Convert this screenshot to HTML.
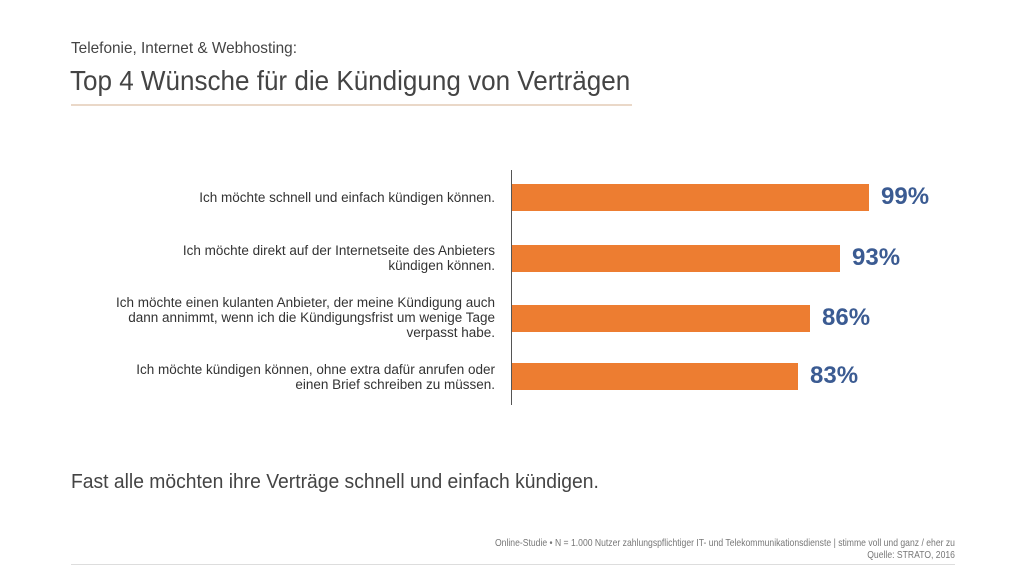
<!DOCTYPE html>
<html><head><meta charset="utf-8"><style>
body{margin:0;width:1024px;height:576px;background:#fff;position:relative;overflow:hidden;font-family:"Liberation Sans Narrow","Liberation Sans",sans-serif;color:#444;}
.a{position:absolute;white-space:nowrap;}
.lbl{position:absolute;right:529px;text-align:right;font-size:13.5px;line-height:15px;color:#333;}
.bar{position:absolute;left:512px;height:27px;background:#ed7d31;}
.pct{position:absolute;font-family:"Liberation Sans",sans-serif;font-weight:bold;font-size:24px;color:#3b5b92;}
</style></head><body>
<div class="a" style="left:71px;top:40px;font-size:16px;color:#444;transform:scaleX(0.96);transform-origin:left">Telefonie, Internet &amp; Webhosting:</div>
<div class="a" style="left:70px;top:65px;font-size:28px;color:#444;transform:scaleX(0.93);transform-origin:left">Top 4 Wünsche für die Kündigung von Verträgen</div>
<div class="a" style="left:71px;top:104px;width:561px;height:2px;background:#ead8c8"></div>
<div class="a" style="left:511px;top:170px;width:1px;height:235px;background:#555"></div>

<div class="lbl" style="top:190px">Ich möchte schnell und einfach kündigen können.</div>
<div class="bar" style="top:184px;width:357px"></div>
<div class="pct" style="left:881px;top:183px">99%</div>

<div class="lbl" style="top:243px">Ich möchte direkt auf der Internetseite des Anbieters<br>kündigen können.</div>
<div class="bar" style="top:245px;width:328px"></div>
<div class="pct" style="left:852px;top:244px">93%</div>

<div class="lbl" style="top:295px">Ich möchte einen kulanten Anbieter, der meine Kündigung auch<br>dann annimmt, wenn ich die Kündigungsfrist um wenige Tage<br>verpasst habe.</div>
<div class="bar" style="top:305px;width:298px"></div>
<div class="pct" style="left:822px;top:304px">86%</div>

<div class="lbl" style="top:362px">Ich möchte kündigen können, ohne extra dafür anrufen oder<br>einen Brief schreiben zu müssen.</div>
<div class="bar" style="top:363px;width:286px"></div>
<div class="pct" style="left:810px;top:362px">83%</div>

<div class="a" style="left:71px;top:471px;font-size:20px;color:#444;transform:scaleX(0.965);transform-origin:left">Fast alle möchten ihre Verträge schnell und einfach kündigen.</div>
<div class="a" style="right:69px;top:537px;font-size:10.5px;line-height:12px;text-align:right;color:#777;transform:scaleX(0.82);transform-origin:right">Online-Studie • N = 1.000 Nutzer zahlungspflichtiger IT- und Telekommunikationsdienste | stimme voll und ganz / eher zu<br>Quelle: STRATO, 2016</div>
<div class="a" style="left:71px;top:564px;width:884px;height:1px;background:#ddd"></div>
</body></html>
